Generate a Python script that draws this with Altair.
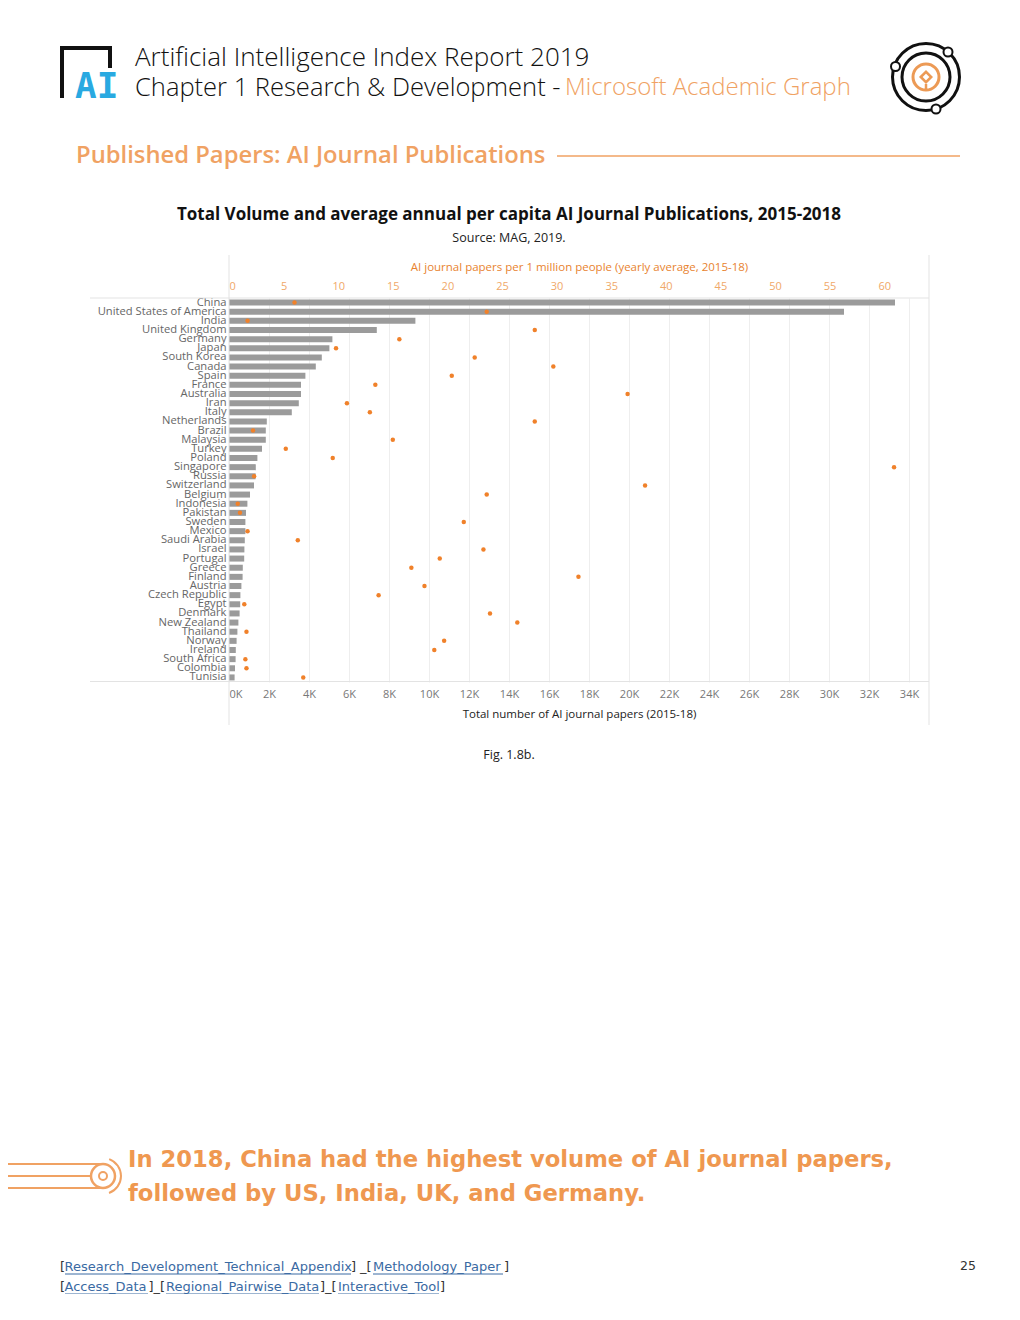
import altair as alt
import pandas as pd

countries = ["China", "United States of America", "India", "United Kingdom", "Germany", "Japan",
             "South Korea", "Canada", "Spain", "France", "Australia", "Iran", "Italy", "Netherlands",
             "Brazil", "Malaysia", "Turkey", "Poland", "Singapore", "Russia", "Switzerland", "Belgium",
             "Indonesia", "Pakistan", "Sweden", "Mexico", "Saudi Arabia", "Israel", "Portugal", "Greece",
             "Finland", "Austria", "Czech Republic", "Egypt", "Denmark", "New Zealand", "Thailand",
             "Norway", "Ireland", "South Africa", "Colombia", "Tunisia"]
# Total number of AI journal papers (2015-18)
papers = [33300, 30750, 9320, 7390, 5170, 5020, 4640, 4340, 3820, 3600, 3600, 3490, 3140, 1890,
          1840, 1840, 1650, 1420, 1340, 1330, 1250, 1050, 920, 850, 820, 820, 790, 770, 760, 690,
          680, 620, 570, 560, 530, 470, 420, 380, 340, 330, 300, 280]
# AI journal papers per 1 million people (yearly average, 2015-18)
per_capita = [6.0, 23.6, 1.7, 28.0, 15.6, 9.8, 22.5, 29.7, 20.4, 13.4, 36.5, 10.8, 12.9, 28.0,
              2.2, 15.0, 5.2, 9.5, 60.9, 2.3, 38.1, 23.6, 0.8, 1.0, 21.5, 1.7, 6.3, 23.3, 19.3, 16.7,
              32.0, 17.9, 13.7, 1.4, 23.9, 26.4, 1.6, 19.7, 18.8, 1.5, 1.6, 6.8]
x_ticks_k = list(range(0, 34001, 2000))
top_ticks = list(range(0, 61, 5))

df = pd.DataFrame({"country": countries, "papers": papers, "per_capita": per_capita})

FONT = "Open Sans"
ORANGE = "#f0a263"
DOT = "#f0812a"
X0, Y0 = 229, 298  # page position of plot origin (8px margin + padding)

y_enc = alt.Y("country:N", sort=countries,
              scale=alt.Scale(paddingInner=0.34, paddingOuter=0.17),
              axis=alt.Axis(title=None, labelColor="#666666", labelFontSize=11.2, labelFont=FONT,
                            labelPadding=3, ticks=False, domain=False, labelOverlap=False, grid=False))

bars = alt.Chart(df).mark_bar(color="#9b9b9b", size=6).encode(
    x=alt.X("papers:Q", scale=alt.Scale(domain=[0, 35000], nice=False),
            axis=alt.Axis(values=x_ticks_k, labelExpr="datum.value / 1000 + 'K'",
                          title="Total number of AI journal papers (2015-18)",
                          titleFont=FONT, titleFontSize=11.5, titleFontWeight="normal", titleColor="#222222",
                          labelFont=FONT, labelColor="#777777", labelFontSize=11, labelPadding=6,
                          titlePadding=9, ticks=False, domain=False, grid=True, gridColor="#eeeeee",
                          labelFlush=True)),
    y=y_enc,
)

dots = alt.Chart(df).mark_circle(color=DOT, size=20, opacity=1).encode(
    x=alt.X("per_capita:Q", scale=alt.Scale(domain=[0, 64.1], nice=False),
            axis=alt.Axis(orient="top", values=top_ticks,
                          title="AI journal papers per 1 million people (yearly average, 2015-18)",
                          titleFont=FONT, titleFontSize=11.5, titleFontWeight="normal", titleColor="#e8832f",
                          labelFont=FONT, labelColor="#f0a868", labelFontSize=11, labelPadding=7,
                          titlePadding=8, ticks=False, domain=False, grid=False, labelFlush=True)),
    y=alt.Y("country:N", sort=countries),
)

ONE = alt.Data(values=[{"k": 1}])


def txt(text, x, y, size, color, weight="normal", align="left", font=FONT, baseline="middle"):
    return alt.Chart(ONE).mark_text(text=text, align=align, baseline=baseline, fontSize=size,
                                    color=color, fontWeight=weight, font=font).encode(
        x=alt.value(x - X0), y=alt.value(y - Y0))


def rule(x1, y1, x2, y2, color, width=1.0):
    return alt.Chart(ONE).mark_rule(color=color, strokeWidth=width).encode(
        x=alt.value(x1 - X0), x2=alt.value(x2 - X0), y=alt.value(y1 - Y0), y2=alt.value(y2 - Y0))


def ring(x, y, r, color, width, fill=None):
    kw = dict(shape="circle", size=(2 * r) ** 2, stroke=color, strokeWidth=width, opacity=1)
    if fill:
        kw.update(filled=True, fill=fill)
    else:
        kw.update(filled=False)
    return alt.Chart(ONE).mark_point(**kw).encode(x=alt.value(x - X0), y=alt.value(y - Y0))


GRID = "#e3e3e3"
LINK = "#3a6aa3"
deco = [
    # table frame lines
    rule(90, 298, 929, 298, GRID), rule(90, 681.5, 929, 681.5, GRID),
    rule(229, 255, 229, 725, GRID), rule(929, 255, 929, 725, GRID),
    # header
    txt("Artificial Intelligence Index Report 2019", 135, 58, 26, "#111111", weight=300),
    txt("Chapter 1 Research & Development - ", 135, 88, 25.5, "#111111", weight=300),
    txt("Microsoft Academic Graph", 565, 88, 24, ORANGE, weight=300),
    # left logo
    rule(62, 48, 62, 98, "#111111", 4), rule(60, 48, 112, 48, "#111111", 4),
    rule(110, 48, 110, 68, "#111111", 4),
    txt("AI", 75, 98, 36, "#29a9e1", weight="bold", font="DejaVu Sans Mono", baseline="alphabetic"),
    # right logo
    ring(926, 77, 33.5, "#111111", 3), ring(926, 77, 24, "#111111", 3),
    ring(926, 77, 13, "#ec9a55", 3),
    rule(926, 84, 926, 90, "#ec9a55", 2.5),
    alt.Chart(ONE).mark_point(shape="diamond", size=110, filled=False, stroke="#ec9a55",
                              strokeWidth=2.5, opacity=1).encode(x=alt.value(926 - X0), y=alt.value(77 - Y0)),
    ring(895.5, 66.5, 4.5, "#111111", 2, fill="white"), ring(948, 52, 4.5, "#111111", 2, fill="white"),
    ring(936, 109, 4.5, "#111111", 2, fill="white"),
    # section header
    txt("Published Papers: AI Journal Publications", 76, 156, 23.8, ORANGE, weight=600),
    rule(557, 156, 960, 156, ORANGE, 1.5),
    # chart title
    txt("Total Volume and average annual per capita AI Journal Publications, 2015-2018", 509, 215, 17,
        "#111111", weight="bold", align="center"),
    txt("Source: MAG, 2019.", 509, 238, 12.5, "#222222", align="center"),
    txt("Fig. 1.8b.", 509, 755, 12.5, "#222222", align="center"),
    # callout
    rule(0, 1164, 100, 1164, ORANGE, 2), rule(0, 1176, 90, 1176, ORANGE, 2),
    rule(0, 1188, 100, 1188, ORANGE, 2),
    ring(103, 1176, 12, ORANGE, 2.5), ring(103, 1176, 4, ORANGE, 2),
    alt.Chart(ONE).mark_arc(radius=19, radius2=17, theta=0.35, theta2=2.8, color=ORANGE).encode(
        x=alt.value(103 - X0), y=alt.value(1176 - Y0)),
    txt("In 2018, China had the highest volume of AI journal papers,", 128, 1160, 22.7, "#ef9850",
        weight="bold", font="DejaVu Sans"),
    txt("followed by US, India, UK, and Germany.", 128, 1194, 22.7, "#ef9850", weight="bold",
        font="DejaVu Sans"),
    # footer
    txt("[", 60, 1267, 13, "#333333", font="DejaVu Sans"),
    txt("Research_Development_Technical_Appendix", 64.5, 1267, 13, LINK, font="DejaVu Sans"),
    txt("]", 351, 1267, 13, "#333333", font="DejaVu Sans"),
    txt("_[", 360, 1267, 13, "#333333", font="DejaVu Sans"),
    txt("Methodology_Paper", 373, 1267, 13, LINK, font="DejaVu Sans"),
    txt("]", 504, 1267, 13, "#333333", font="DejaVu Sans"),
    rule(65, 1274, 351, 1274, LINK, 1), rule(373, 1274, 503, 1274, LINK, 1),
    txt("[", 60, 1287, 13, "#333333", font="DejaVu Sans"),
    txt("Access_Data", 64.5, 1287, 13, LINK, font="DejaVu Sans"),
    txt("]_[", 148.5, 1287, 13, "#333333", font="DejaVu Sans"),
    txt("Regional_Pairwise_Data", 166, 1287, 13, LINK, font="DejaVu Sans"),
    txt("]_[", 320, 1287, 13, "#333333", font="DejaVu Sans"),
    txt("Interactive_Tool", 338, 1287, 13, LINK, font="DejaVu Sans"),
    txt("]", 440, 1287, 13, "#333333", font="DejaVu Sans"),
    rule(65, 1294, 148, 1294, LINK, 1), rule(166, 1294, 319, 1294, LINK, 1),
    rule(338, 1294, 439, 1294, LINK, 1),
    txt("25", 968, 1266, 12.5, "#333333", align="center", font="DejaVu Sans"),
]

chart = alt.layer(bars, dots, *deco).resolve_scale(x="independent").properties(
    width=700, height=384,
    autosize=alt.AutoSizeParams(type="none"),
    padding={"left": 221, "top": 290, "right": 75, "bottom": 612},
    background="white",
).configure_view(stroke="transparent")

chart.save("out.html", embed_options={"renderer": "svg", "actions": False})
